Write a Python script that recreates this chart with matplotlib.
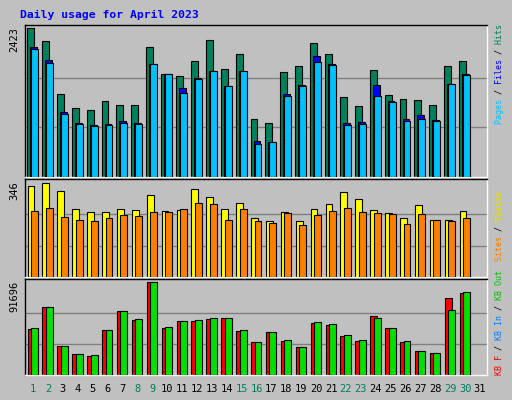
import matplotlib
matplotlib.use("Agg")
import matplotlib.pyplot as plt
import numpy as np

days = list(range(1, 32))
weekend = [1, 2, 8, 9, 15, 16, 22, 23, 29, 30]
hits = [2423, 2207, 1344, 1128, 1095, 1228, 1178, 1178, 2108, 1676, 1643, 1892, 2224, 1759, 1992,
        946, 880, 1710, 1809, 2174, 2008, 1295, 1162, 1743, 1328, 1261, 1245, 1178, 1809, 1892]
files = [2108, 1909, 1062, 880, 847, 863, 913, 880, 1842, 1676, 1444, 1610, 1726, 1477, 1726,
         581, 564, 1344, 1494, 1975, 1842, 880, 896, 1494, 1228, 946, 1012, 929, 1510, 1676]
pages = [2075, 1859, 1029, 863, 830, 847, 880, 863, 1842, 1676, 1361, 1593, 1726, 1477, 1726,
         531, 564, 1311, 1477, 1876, 1826, 846, 863, 1311, 1212, 913, 946, 913, 1510, 1660]
visits = [334, 346, 315, 250, 238, 238, 250, 246, 300, 242, 246, 323, 292, 250, 273,
          215, 207, 238, 204, 250, 269, 311, 288, 246, 234, 215, 265, 211, 211, 242]
sites = [242, 254, 219, 211, 207, 215, 227, 223, 238, 238, 250, 273, 269, 211, 250,
         204, 200, 234, 192, 227, 242, 254, 238, 234, 230, 196, 230, 211, 207, 215]
kbf = [45200, 66700, 28300, 20900, 18900, 44200, 63400, 54300, 91696, 46200, 53300, 53300, 55300, 56300, 43100,
       32000, 42100, 33000, 28000, 51200, 49200, 38100, 33000, 58300, 46200, 32000, 23900, 21900, 75500, 80600]
kbout = [46200, 66700, 28300, 20900, 19900, 44200, 63400, 55300, 91696, 47200, 53300, 54300, 56300, 56300, 44200,
         32000, 42100, 34000, 28000, 52200, 50200, 39100, 34000, 56300, 46200, 33000, 23900, 21900, 64400, 81600]

BG = "#C0C0C0"
W, H = 512, 400
fig = plt.figure(figsize=(5.12, 4.0), dpi=100, facecolor=BG)
mono = "DejaVu Sans Mono"

def ax_at(l, t, r, b):
    a = fig.add_axes([l / W, 1 - b / H, (r - l) / W, (b - t) / H])
    a.set_facecolor(BG)
    for s in ["left", "top"]:
        a.spines[s].set_color("black")
    for s in ["right", "bottom"]:
        a.spines[s].set_color("white")
    for s in a.spines.values():
        s.set_linewidth(1)
    a.set_xticks([]); a.set_yticks([])
    a.set_xlim(0.46, 31.47)
    return a

x = np.array(days[:30])
ek = dict(edgecolor="black", linewidth=0.8)

a1 = ax_at(25, 25, 487, 177)
a1.set_ylim(0, max(hits) * 1.02)
for f in (1/3, 2/3):
    a1.axhline(max(hits) * f, color="#808080", lw=1, zorder=0)
a1.bar(x - 0.17, hits, 0.46, color="#00805C", **ek, zorder=2)
a1.bar(x + 0.03, files, 0.46, color="#0000FF", **ek, zorder=3)
a1.bar(x + 0.1, pages, 0.46, color="#00C0FF", **ek, zorder=4)

a2 = ax_at(25, 179, 487, 277)
a2.set_ylim(0, max(visits) * 1.04)
for f in (1/3, 2/3):
    a2.axhline(max(visits) * f, color="#808080", lw=1, zorder=0)
a2.bar(x - 0.14, visits, 0.46, color="#FFFF00", **ek, zorder=2)
a2.bar(x + 0.1, sites, 0.46, color="#FF8000", **ek, zorder=3)

a3 = ax_at(25, 279, 487, 375)
a3.set_ylim(0, max(kbf) * 1.03)
for f in (1/3, 2/3):
    a3.axhline(max(kbf) * f, color="#808080", lw=1, zorder=0)
a3.bar(x - 0.14, kbf, 0.46, color="#FF0000", **ek, zorder=2)
a3.bar(x + 0.1, kbout, 0.46, color="#00E000", **ek, zorder=3)

fig.text(20 / W, 1 - 15 / H, "Daily usage for April 2023", color="#0000FF", family=mono,
         weight="bold", fontsize=8.2, va="center", ha="left")

for txt, top in [(str(max(hits)), 27), (str(max(visits)), 181), (str(max(kbf)), 281)]:
    fig.text(14 / W, 1 - top / H, txt, rotation=90, family=mono, fontsize=7.5,
             va="top", ha="center")

for d in days:
    xp = 25 + (d - 0.46) / (31.47 - 0.46) * (487 - 25)
    fig.text(xp / W, 1 - 389 / H, str(d), family=mono, fontsize=7.5, ha="center", va="center",
             color="#00805C" if d in weekend else "black")

def legend(full, parts, bottom):
    for piece, col, idx in parts:
        s = " " * idx + piece + " " * (len(full) - idx - len(piece))
        fig.text(499 / W, 1 - bottom / H, s, rotation=90, family=mono, fontsize=6.0,
                 color=col, ha="center", va="bottom")

legend("Pages / Files / Hits", [("Pages", "#00C0FF", 0), ("/", "black", 6), ("Files", "#0000FF", 8),
                                ("/", "black", 14), ("Hits", "#00805C", 16)], 124)
legend("Sites / Visits", [("Sites", "#FF8000", 0), ("/", "black", 6), ("Visits", "#E0E000", 8)], 261)
legend("KB F / KB In / KB Out", [("KB F", "#FF0000", 0), ("/", "black", 5), ("KB In", "#0080FF", 7),
                                 ("/", "black", 13), ("KB Out", "#00C000", 15)], 375)

fig.savefig("out.png", dpi=100, facecolor=BG)
